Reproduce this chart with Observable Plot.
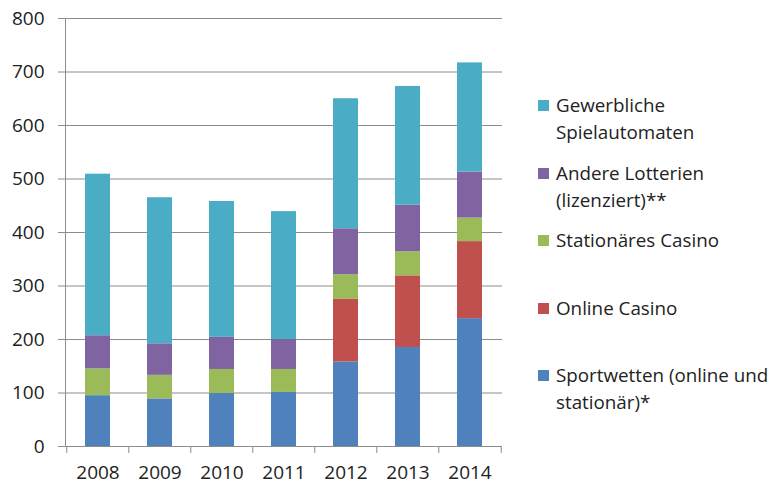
<!DOCTYPE html>
<html><head><meta charset="utf-8">
<script src="https://cdn.jsdelivr.net/npm/d3@7"></script>
<script src="https://cdn.jsdelivr.net/npm/@observablehq/plot@0.6"></script>
<style>
body{margin:0;background:#fff;}
#wrap{position:relative;width:781px;height:485px;font-family:"Open Sans",sans-serif;color:#222;}
.item{position:absolute;left:538px;font-size:18.8px;line-height:26.7px;}
.sw{position:absolute;left:0;top:8px;width:11px;height:11px;}
.lbl{position:absolute;left:18px;top:0;white-space:nowrap;}
</style></head><body><div id="wrap"><div id="chart"></div></div>
<script>
const years = ["2008","2009","2010","2011","2012","2013","2014"];
const sportwetten = [95,89,99,101,158,185,239];
const onlineCasino = [0,0,0,0,117,134,144];
const stationaer = [50,44,45,43,46,45,44];
const lotterien = [62,59,60,56,86,87,86];
const automaten = [302,273,254,239,243,222,204];
const seriesNames = ["Sportwetten (online und stationär)*","Online Casino","Stationäres Casino","Andere Lotterien (lizenziert)**","Gewerbliche Spielautomaten"];
const seriesColors = ["#4f81bd","#c0504d","#9bbb59","#8064a2","#4bacc6"];
const legendLabels = ["Gewerbliche<br>Spielautomaten","Andere Lotterien<br>(lizenziert)**","Stationäres Casino","Online Casino","Sportwetten (online und<br>stationär)*"];
const yTicks = [0,100,200,300,400,500,600,700,800];

const seriesValues = [sportwetten,onlineCasino,stationaer,lotterien,automaten];
const rows = [];
seriesNames.forEach((s,i)=>years.forEach((y,j)=>rows.push({year:y,series:s,value:seriesValues[i][j]})));

const W=781,H=485,mL=65,mR=279,mT=18,mB=39;
const bw=(W-mL-mR)/years.length;
const gray="#8c8c8c";
const chart = Plot.plot({
  width:W,height:H,marginLeft:mL,marginRight:mR,marginTop:mT,marginBottom:mB,
  style:{fontFamily:"Open Sans, sans-serif",fontSize:"19px",color:"#222",background:"#fff",overflow:"visible"},
  x:{domain:years,paddingInner:0.6,paddingOuter:0.3,label:null},
  y:{domain:[0,800],label:null},
  color:{domain:seriesNames,range:seriesColors},
  marks:[
    Plot.gridY(yTicks,{stroke:gray,strokeOpacity:1,strokeWidth:1}),
    Plot.axisY(yTicks,{tickSize:7,tickPadding:14,stroke:gray,fill:"#222",label:null,fontSize:19}),
    Plot.barY(rows,Plot.stackY({order:seriesNames},{x:"year",y:"value",fill:"series"})),
    Plot.axisX({tickSize:0,tickPadding:19,fill:"#222",label:null,fontSize:19}),
    Plot.axisX({tickSize:7,text:null,stroke:gray,dx:-bw/2,label:null}),
    Plot.axisX([years[years.length-1]],{tickSize:7,text:null,stroke:gray,dx:bw/2,label:null}),
    Plot.frame({anchor:"left",stroke:gray}),
    Plot.ruleY([0],{stroke:gray})
  ]
});
document.getElementById("chart").appendChild(chart);

const tops=[92,160,227,295,362];
const wrap=document.getElementById("wrap");
legendLabels.forEach((l,i)=>{
  const d=document.createElement("div");d.className="item";d.style.top=tops[i]+"px";
  const color=seriesColors[seriesColors.length-1-i];
  d.innerHTML=`<div class="sw" style="background:${color}"></div><div class="lbl">${l}</div>`;
  wrap.appendChild(d);
});
</script></body></html>
